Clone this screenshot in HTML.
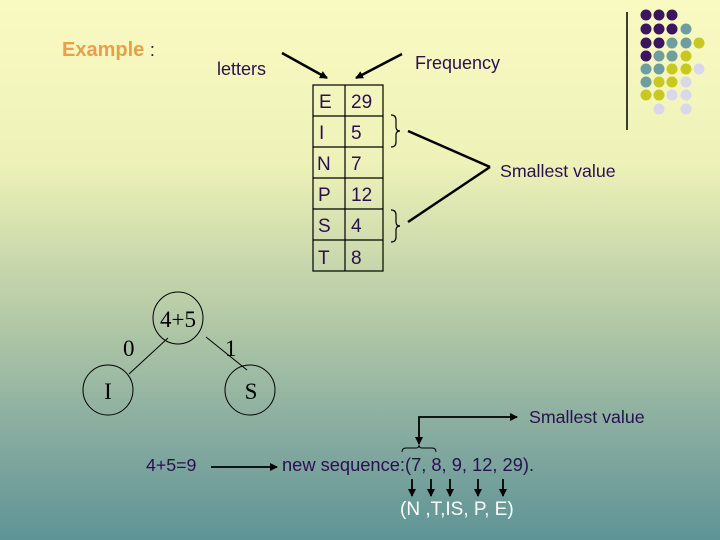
<!DOCTYPE html>
<html><head><style>body{margin:0}svg{display:block}</style></head><body>
<svg width="720" height="540" xmlns="http://www.w3.org/2000/svg" font-family="Liberation Sans, sans-serif">
<defs>
<linearGradient id="g" x1="0" y1="0" x2="0" y2="1">
<stop offset="0" stop-color="#f9fac2"/><stop offset="0.3" stop-color="#eef2b8"/><stop offset="0.55" stop-color="#bccfa8"/><stop offset="0.8" stop-color="#88aca0"/><stop offset="1" stop-color="#5e9495"/>
</linearGradient>
<marker id="a" markerWidth="8" markerHeight="8" refX="7" refY="4" orient="auto" markerUnits="userSpaceOnUse"><path d="M0,0 L8,4 L0,8z" fill="#000"/></marker>
</defs>
<rect width="720" height="540" fill="url(#g)"/>
<line x1="627" y1="12" x2="627" y2="130" stroke="#000" stroke-width="1.5"/>
<g>
<circle cx="646" cy="15" r="5.5" fill="#3a1560"/><circle cx="659" cy="15" r="5.5" fill="#3a1560"/><circle cx="672" cy="15" r="5.5" fill="#3a1560"/>
<circle cx="646" cy="29" r="5.5" fill="#3a1560"/><circle cx="659" cy="29" r="5.5" fill="#3a1560"/><circle cx="672" cy="29" r="5.5" fill="#3a1560"/><circle cx="686" cy="29" r="5.5" fill="#6e9e9f"/>
<circle cx="646" cy="43" r="5.5" fill="#3a1560"/><circle cx="659" cy="43" r="5.5" fill="#3a1560"/><circle cx="672" cy="43" r="5.5" fill="#6e9e9f"/><circle cx="686" cy="43" r="5.5" fill="#6e9e9f"/><circle cx="699" cy="43" r="5.5" fill="#c8c820"/>
<circle cx="646" cy="56" r="5.5" fill="#3a1560"/><circle cx="659" cy="56" r="5.5" fill="#6e9e9f"/><circle cx="672" cy="56" r="5.5" fill="#6e9e9f"/><circle cx="686" cy="56" r="5.5" fill="#c8c820"/>
<circle cx="646" cy="69" r="5.5" fill="#6e9e9f"/><circle cx="659" cy="69" r="5.5" fill="#6e9e9f"/><circle cx="672" cy="69" r="5.5" fill="#c8c820"/><circle cx="686" cy="69" r="5.5" fill="#c8c820"/><circle cx="699" cy="69" r="5.5" fill="#d8d8ea"/>
<circle cx="646" cy="82" r="5.5" fill="#6e9e9f"/><circle cx="659" cy="82" r="5.5" fill="#c8c820"/><circle cx="672" cy="82" r="5.5" fill="#c8c820"/><circle cx="686" cy="82" r="5.5" fill="#d8d8ea"/>
<circle cx="646" cy="95" r="5.5" fill="#c8c820"/><circle cx="659" cy="95" r="5.5" fill="#c8c820"/><circle cx="672" cy="95" r="5.5" fill="#d8d8ea"/><circle cx="686" cy="95" r="5.5" fill="#d8d8ea"/>
<circle cx="659" cy="109" r="5.5" fill="#d8d8ea"/><circle cx="686" cy="109" r="5.5" fill="#d8d8ea"/>
</g>
<text x="62" y="56" font-size="20" font-weight="bold" fill="#e8a048">Example <tspan fill="#2a1050" font-weight="normal" font-size="18">:</tspan></text>
<g fill="#2a1050" font-size="18">
<text x="217" y="75">letters</text>
<text x="415" y="69">Frequency</text>
<text x="500" y="177" font-size="17.8">Smallest value</text>
</g>
<g stroke="#000" stroke-width="2.5" fill="none">
<line x1="282" y1="53" x2="327" y2="78" marker-end="url(#a)"/>
<line x1="402" y1="54" x2="356" y2="78" marker-end="url(#a)"/>
<line x1="408" y1="131" x2="490" y2="167"/>
<line x1="408" y1="222" x2="490" y2="167"/>
</g>
<g stroke="#000" stroke-width="1.2" fill="none">
<rect x="313" y="85" width="70" height="186"/>
<line x1="345" y1="85" x2="345" y2="271"/>
<line x1="313" y1="116" x2="383" y2="116"/><line x1="313" y1="147" x2="383" y2="147"/><line x1="313" y1="178" x2="383" y2="178"/><line x1="313" y1="209" x2="383" y2="209"/><line x1="313" y1="240" x2="383" y2="240"/>
<path d="M391,115 q5,0 5,5 v7 q0,4 4,4 q-4,0 -4,4 v7 q0,5 -5,5"/>
<path d="M391,210 q5,0 5,5 v7 q0,4 4,4 q-4,0 -4,4 v7 q0,5 -5,5"/>
</g>
<g fill="#2a1050" font-size="19">
<text x="319" y="108">E</text><text x="351" y="108">29</text>
<text x="319" y="139">I</text><text x="351" y="139">5</text>
<text x="317" y="170">N</text><text x="351" y="170">7</text>
<text x="318" y="201">P</text><text x="351" y="201">12</text>
<text x="318" y="232">S</text><text x="351" y="232">4</text>
<text x="318" y="264">T</text><text x="351" y="264">8</text>
</g>
<g stroke="#000" stroke-width="1" fill="none">
<ellipse cx="178" cy="318" rx="25" ry="26"/>
<ellipse cx="108" cy="390" rx="25" ry="25"/>
<ellipse cx="250" cy="390" rx="25" ry="25"/>
<line x1="168" y1="338" x2="129" y2="374"/>
<line x1="206" y1="337" x2="247" y2="370"/>
</g>
<g font-family="Liberation Serif, serif" fill="#000" font-size="23">
<text x="178" y="327" text-anchor="middle">4+5</text>
<text x="108" y="399" text-anchor="middle">I</text>
<text x="251" y="399" text-anchor="middle">S</text>
<text x="123" y="356">0</text>
<text x="225" y="356">1</text>
</g>
<g fill="#2a1050" font-size="17.8">
<text x="529" y="423">Smallest value</text>
<text x="146" y="471">4+5=9</text>
<text x="282" y="471" font-size="18.3">new sequence:(7, 8, 9, 12, 29).</text>
</g>
<text x="400" y="515" fill="#fff" font-size="19">(N ,T,IS,  P, E)</text>
<g stroke="#000" stroke-width="1.8" fill="none">
<polyline points="419,443 419,417 517,417" marker-end="url(#a)"/>
<line x1="419" y1="437" x2="419" y2="444" marker-end="url(#a)"/>
<line x1="211" y1="467" x2="277" y2="467" marker-end="url(#a)"/>
<line x1="412" y1="479" x2="412" y2="496" marker-end="url(#a)"/>
<line x1="431" y1="479" x2="431" y2="496" marker-end="url(#a)"/>
<line x1="450" y1="479" x2="450" y2="496" marker-end="url(#a)"/>
<line x1="478" y1="479" x2="478" y2="496" marker-end="url(#a)"/>
<line x1="503" y1="479" x2="503" y2="496" marker-end="url(#a)"/>
</g>
<path d="M402,452 q0,-4 4,-4 h10 q3,0 3,-3 q0,3 3,3 h10 q4,0 4,4" stroke="#000" stroke-width="1" fill="none"/>
</svg>
</body></html>
